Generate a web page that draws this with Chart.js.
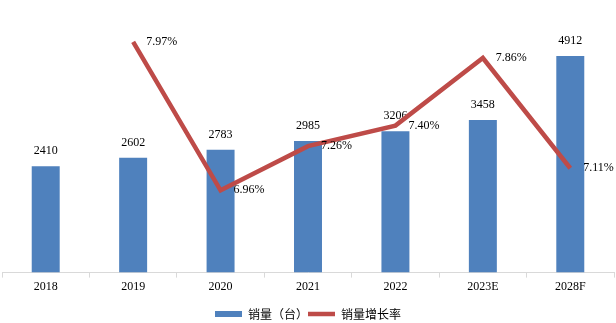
<!DOCTYPE html>
<html lang="zh">
<head>
<meta charset="UTF-8" />
<title>销量及增长率</title>
<script src="https://cdn.jsdelivr.net/npm/chart.js@4.4.0/dist/chart.umd.min.js"></script>
<style>
  body { margin: 0; background: #fff; }
  #wrap { width: 616px; height: 323px; }
</style>
</head>
<body>
<div id="wrap"><canvas id="salesChart"></canvas></div>
<script>
const years = ['2018', '2019', '2020', '2021', '2022', '2023E', '2028F'];
const sales = [2410, 2602, 2783, 2985, 3206, 3458, 4912];
const growth = [null, 7.97, 6.96, 7.26, 7.40, 7.86, 7.11];

const serif = 'Liberation Serif, Times New Roman, serif';
const blue = '#4F81BD';
const red = '#BE4B48';

// value labels: bar totals above each bar, growth rates to the right of each point
const valueLabels = {
  id: 'valueLabels',
  afterDatasetDraw(chart, args) {
    const ctx = chart.ctx;
    const meta = args.meta;
    ctx.save();
    ctx.font = '12px ' + serif;
    ctx.fillStyle = '#000';
    if (meta.type === 'bar') {
      ctx.textAlign = 'center';
      ctx.textBaseline = 'middle';
      meta.data.forEach((bar, i) => {
        ctx.fillText(String(sales[i]), bar.x, bar.y - 15);
      });
    } else {
      ctx.textAlign = 'left';
      ctx.textBaseline = 'middle';
      meta.data.forEach((pt, i) => {
        if (growth[i] == null) return;
        ctx.fillText(growth[i].toFixed(2) + '%', pt.x + 13, pt.y);
      });
    }
    ctx.restore();
  }
};

new Chart(document.getElementById('salesChart'), {
  type: 'bar',
  data: {
    labels: years,
    datasets: [
      {
        type: 'line',
        label: '销量增长率',
        data: growth,
        yAxisID: 'yRate',
        borderColor: red,
        backgroundColor: red,
        borderWidth: 4.5,
        pointRadius: 0,
        pointStyle: 'line',
        spanGaps: false
      },
      {
        label: '销量（台）',
        data: sales,
        yAxisID: 'y',
        backgroundColor: blue,
        categoryPercentage: 1,
        barPercentage: 0.32,
        pointStyle: 'rect'
      }
    ]
  },
  options: {
    responsive: true,
    maintainAspectRatio: false,
    animation: false,
    layout: { padding: { top: 8, left: 2, right: 2, bottom: -7 } },
    scales: {
      x: {
        grid: { offset: true, drawOnChartArea: false, tickLength: 5, color: '#d9d9d9' },
        border: { color: '#d9d9d9' },
        ticks: { color: '#000', font: { family: serif, size: 12 }, padding: 2 },
        // leave some room between the year labels and the legend
        afterFit(scale) { scale.height += 12; }
      },
      y: { display: false, min: 0, max: 6000 },
      yRate: { display: false, position: 'right', min: 6.4, max: 8.2 }
    },
    plugins: {
      tooltip: { enabled: false },
      legend: {
        position: 'bottom',
        reverse: true,
        labels: {
          usePointStyle: true,
          pointStyleWidth: 27,
          boxHeight: 6,
          padding: 0,
          color: '#000',
          font: { family: 'Noto Sans CJK SC', size: 12 }
        }
      }
    }
  },
  plugins: [valueLabels]
});
</script>
</body>
</html>
